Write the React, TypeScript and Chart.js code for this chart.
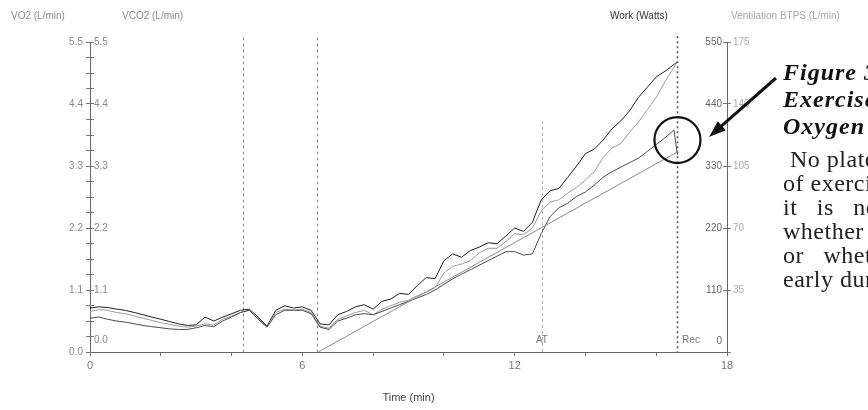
import { useEffect, useRef } from "react";
import { Chart, registerables } from "chart.js";

Chart.register(...registerables);

// ---- data ----
const timeMin = [0, 0.25, 0.5, 0.75, 1, 1.25, 1.5, 1.75, 2, 2.25, 2.5, 2.75, 3, 3.25, 3.5, 3.75, 4, 4.25, 4.5, 4.75, 5, 5.25, 5.5, 5.75, 6, 6.25, 6.5, 6.75, 7, 7.25, 7.5, 7.75, 8, 8.25, 8.5, 8.75, 9, 9.25, 9.5, 9.75, 10, 10.25, 10.5, 10.75, 11, 11.25, 11.5, 11.75, 12, 12.25, 12.5, 12.75, 13, 13.25, 13.5, 13.75, 14, 14.25, 14.5, 14.75, 15, 15.25, 15.5, 15.75, 16, 16.25, 16.5, 16.6];

const ventilation = [24.8, 25.5, 25.1, 24.2, 23.5, 22.3, 21.0, 19.7, 18.5, 17.2, 15.9, 15.0, 15.3, 19.7, 17.5, 19.7, 21.6, 23.5, 24.2, 19.7, 14.6, 23.5, 26.1, 24.8, 25.5, 23.5, 15.9, 15.3, 21.0, 22.9, 25.5, 26.7, 24.2, 28.6, 29.9, 33.1, 32.5, 37.5, 42.0, 41.4, 51.5, 55.4, 53.5, 57.3, 59.2, 61.7, 61.1, 65.5, 70.0, 68.1, 73.2, 85.9, 91.0, 92.3, 98.6, 105.0, 112.0, 114.5, 119.6, 126.0, 130.5, 136.2, 143.8, 149.5, 155.3, 158.5, 162.3, 163.9];

const vco2 = [0.72, 0.75, 0.74, 0.70, 0.68, 0.64, 0.60, 0.56, 0.52, 0.49, 0.46, 0.44, 0.46, 0.50, 0.48, 0.58, 0.64, 0.70, 0.74, 0.60, 0.44, 0.70, 0.76, 0.74, 0.76, 0.70, 0.46, 0.42, 0.58, 0.64, 0.70, 0.74, 0.66, 0.76, 0.82, 0.88, 0.92, 1.00, 1.06, 1.14, 1.40, 1.52, 1.56, 1.62, 1.76, 1.84, 1.84, 1.96, 2.10, 2.08, 2.20, 2.50, 2.66, 2.70, 2.82, 2.92, 3.05, 3.20, 3.45, 3.62, 3.70, 3.90, 4.08, 4.30, 4.52, 4.80, 5.05, 5.15];

const vo2 = [0.60, 0.62, 0.58, 0.55, 0.53, 0.50, 0.47, 0.45, 0.43, 0.41, 0.40, 0.40, 0.43, 0.47, 0.45, 0.55, 0.62, 0.70, 0.74, 0.58, 0.44, 0.66, 0.74, 0.74, 0.74, 0.68, 0.44, 0.40, 0.55, 0.60, 0.66, 0.68, 0.66, 0.72, 0.78, 0.84, 0.90, 0.96, 1.02, 1.10, 1.20, 1.30, 1.38, 1.46, 1.54, 1.62, 1.70, 1.78, 1.78, 1.72, 1.74, 2.10, 2.40, 2.56, 2.64, 2.76, 2.84, 2.96, 3.10, 3.20, 3.28, 3.36, 3.44, 3.56, 3.68, 3.80, 3.94, 3.50];

const workTime = [6.45, 16.6];
const workWatts = [0, 355];

const markerTimes = [4.33, 6.42, 12.77, 16.59];
const markerLabels = ["", "", "AT", "Rec"];
const markerTopsL = [5.58, 5.58, 4.1, 5.6];

const xTicks = [0, 2, 4, 6, 8, 10, 12, 14, 16, 18];
const xLabelTicks = [0, 6, 12, 18];
const o2Ticks = [0, 0.275, 0.55, 0.825, 1.1, 1.375, 1.65, 1.925, 2.2, 2.475, 2.75, 3.025, 3.3, 3.575, 3.85, 4.125, 4.4, 4.675, 4.95, 5.225, 5.5];
const o2LabelTicks = [0, 1.1, 2.2, 3.3, 4.4, 5.5];
const workTicks = [0, 110, 220, 330, 440, 550];
const veTicks = [0, 35, 70, 105, 140, 175];

const peakCircle = { t: 16.6, v: 3.76 };

const SANS = '"Liberation Sans", Arial, sans-serif';

const isLabel = (v: number, list: number[]) => list.some((l) => Math.abs(l - v) < 1e-6);

const overlay = {
  id: "overlay",
  beforeDatasetsDraw(chart: any) {
    const { ctx } = chart;
    const x = chart.scales.x;
    const y = chart.scales.o2;
    ctx.save();
    markerTimes.forEach((t, i) => {
      const px = Math.round(x.getPixelForValue(t)) + 0.5;
      const top = y.getPixelForValue(markerTopsL[i]);
      const bottom = y.getPixelForValue(0);
      ctx.beginPath();
      if (i === 3) {
        ctx.strokeStyle = "#555";
        ctx.lineWidth = 1.6;
        ctx.setLineDash([2, 3]);
      } else if (i === 2) {
        ctx.strokeStyle = "#aaa";
        ctx.lineWidth = 1;
        ctx.setLineDash([3, 3]);
      } else {
        ctx.strokeStyle = "#888";
        ctx.lineWidth = 1;
        ctx.setLineDash([3, 3]);
      }
      ctx.moveTo(px, top);
      ctx.lineTo(px, bottom);
      ctx.stroke();
    });
    ctx.restore();
  },
  afterDraw(chart: any) {
    const { ctx } = chart;
    const x = chart.scales.x;
    const y = chart.scales.o2;
    const yb = y.getPixelForValue(0);
    ctx.save();
    ctx.setLineDash([]);
    ctx.textBaseline = "middle";
    // header titles
    ctx.font = `10px ${SANS}`;
    ctx.textAlign = "left";
    ctx.fillStyle = "#8a8a8a";
    ctx.fillText("VO2 (L/min)", 11, 16);
    ctx.fillText("VCO2 (L/min)", 122, 16);
    ctx.fillStyle = "#333";
    ctx.fillText("Work (Watts)", 610, 16);
    ctx.fillStyle = "#a8a8a8";
    ctx.fillText("Ventilation BTPS (L/min)", 731, 16);

    // marker labels
    ctx.font = `10px ${SANS}`;
    ctx.fillStyle = "#777";
    markerTimes.forEach((t, i) => {
      const lab = markerLabels[i];
      if (!lab) return;
      const px = x.getPixelForValue(t);
      if (lab === "AT") {
        ctx.textAlign = "center";
        ctx.fillText(lab, px, yb - 12);
      } else {
        ctx.textAlign = "left";
        ctx.fillText(lab, px + 5, yb - 12);
      }
    });
    // zero labels above the base line
    ctx.textAlign = "left";
    ctx.fillStyle = "#888";
    ctx.fillText("0.0", x.left + 4, yb - 12);
    ctx.textAlign = "right";
    ctx.fillStyle = "#666";
    ctx.fillText("0", x.right - 5, yb - 11);

    // circle around VO2 peak
    const cx = x.getPixelForValue(peakCircle.t);
    const cy = y.getPixelForValue(peakCircle.v);
    ctx.beginPath();
    ctx.strokeStyle = "#111";
    ctx.lineWidth = 2.2;
    ctx.arc(cx, cy, 23, 0, Math.PI * 2);
    ctx.stroke();

    // arrow
    const ax0 = 776, ay0 = 78, ax1 = 709, ay1 = 137;
    const ang = Math.atan2(ay1 - ay0, ax1 - ax0);
    ctx.beginPath();
    ctx.lineWidth = 3;
    ctx.strokeStyle = "#111";
    ctx.moveTo(ax0, ay0);
    ctx.lineTo(ax1 - 10 * Math.cos(ang), ay1 - 10 * Math.sin(ang));
    ctx.stroke();
    ctx.beginPath();
    ctx.fillStyle = "#111";
    ctx.moveTo(ax1, ay1);
    ctx.lineTo(ax1 - 17 * Math.cos(ang) + 6 * Math.sin(ang), ay1 - 17 * Math.sin(ang) - 6 * Math.cos(ang));
    ctx.lineTo(ax1 - 17 * Math.cos(ang) - 6 * Math.sin(ang), ay1 - 17 * Math.sin(ang) + 6 * Math.cos(ang));
    ctx.closePath();
    ctx.fill();
    ctx.restore();
  },
};

export default function App() {
  const canvasRef = useRef<HTMLCanvasElement | null>(null);

  useEffect(() => {
    if (!canvasRef.current) return;
    const pts = (xs: number[], ys: number[]) => xs.map((t, i) => ({ x: t, y: ys[i] }));
    const tickFont = { family: SANS, size: 10 };
    const chart = new Chart(canvasRef.current, {
      type: "line",
      data: {
        datasets: [
          { label: "Work", data: pts(workTime, workWatts), yAxisID: "work", borderColor: "#8a8a8a", borderWidth: 1, pointRadius: 0, tension: 0 },
          { label: "VO2", data: pts(timeMin, vo2), yAxisID: "o2", borderColor: "#4a4a4a", borderWidth: 1, pointRadius: 0, tension: 0 },
          { label: "VCO2", data: pts(timeMin, vco2), yAxisID: "co2", borderColor: "#9a9a9a", borderWidth: 1, pointRadius: 0, tension: 0 },
          { label: "Ventilation", data: pts(timeMin, ventilation), yAxisID: "ve", borderColor: "#1e1e1e", borderWidth: 1, pointRadius: 0, tension: 0 },
        ],
      },
      options: {
        responsive: false,
        animation: false,
        devicePixelRatio: 1,
        layout: { padding: { top: 42, left: 0, right: 0, bottom: 0 } },
        plugins: { legend: { display: false }, tooltip: { enabled: false } },
        scales: {
          x: {
            type: "linear",
            position: "bottom",
            min: 0,
            max: 18,
            afterFit: (s: any) => { s.height = 58; },
            afterBuildTicks: (s: any) => { s.ticks = xTicks.map((v) => ({ value: v })); },
            ticks: {
              autoSkip: false,
              maxRotation: 0,
              color: "#777",
              font: { family: SANS, size: 11 },
              padding: 3,
              callback: (v: any) => (isLabel(Number(v), xLabelTicks) ? String(v) : ""),
            },
            grid: { drawOnChartArea: false, tickLength: 4, color: "#777" },
            border: { color: "#666" },
            title: { display: true, text: "Time (min)", color: "#444", font: { family: SANS, size: 11 }, padding: { top: 0, bottom: 5 } },
          },
          o2: {
            type: "linear",
            position: "left",
            weight: 1,
            min: 0,
            max: 5.5,
            afterFit: (s: any) => { s.width = 90; },
            afterBuildTicks: (s: any) => { s.ticks = o2Ticks.map((v) => ({ value: v })); },
            ticks: {
              autoSkip: false,
              color: "#888",
              font: tickFont,
              padding: 3,
              callback: (v: any) => (isLabel(Number(v), o2LabelTicks) ? Number(v).toFixed(1) : ""),
            },
            grid: { drawOnChartArea: false, tickLength: 4, color: "#777" },
            border: { color: "#666" },
          },
          co2: {
            type: "linear",
            position: "left",
            weight: 0,
            min: 0,
            max: 5.5,
            afterFit: (s: any) => { s.width = 0; },
            afterBuildTicks: (s: any) => { s.ticks = o2Ticks.map((v) => ({ value: v })); },
            ticks: {
              autoSkip: false,
              mirror: true,
              color: "#888",
              font: tickFont,
              padding: 4,
              callback: (v: any) => {
                const n = Number(v);
                if (n === 0) return "";
                return isLabel(n, o2LabelTicks) ? n.toFixed(1) : "";
              },
            },
            grid: { drawOnChartArea: false, tickLength: -4, color: "#777" },
            border: { color: "#666" },
          },
          work: {
            type: "linear",
            position: "right",
            weight: 0,
            min: 0,
            max: 550,
            afterFit: (s: any) => { s.width = 0; },
            afterBuildTicks: (s: any) => { s.ticks = workTicks.map((v) => ({ value: v })); },
            ticks: {
              autoSkip: false,
              mirror: true,
              color: "#666",
              font: tickFont,
              padding: -5,
              callback: (v: any) => (Number(v) === 0 ? "" : String(v)),
            },
            grid: { drawOnChartArea: false, tickLength: -4, color: "#777" },
            border: { color: "#666" },
          },
          ve: {
            type: "linear",
            position: "right",
            weight: 1,
            min: 0,
            max: 175,
            afterFit: (s: any) => { s.width = 141; },
            afterBuildTicks: (s: any) => { s.ticks = veTicks.map((v) => ({ value: v })); },
            ticks: {
              autoSkip: false,
              color: "#aaa",
              font: tickFont,
              padding: 2,
              callback: (v: any) => (Number(v) === 0 ? "" : String(v)),
            },
            grid: { drawOnChartArea: false, tickLength: 4, color: "#777" },
            border: { color: "#666" },
          },
        },
      } as any,
      plugins: [overlay],
    });
    return () => chart.destroy();
  }, []);

  const serif = '"Liberation Serif", "Times New Roman", serif';
  return (
    <div style={{ position: "fixed", left: 0, top: 0, width: 868, height: 410, overflow: "hidden", background: "#fff" }}>
      <canvas ref={canvasRef} width={868} height={410} style={{ position: "absolute", left: 0, top: 0, width: 868, height: 410 }} />
      <div style={{ position: "absolute", left: 783, top: 59, fontFamily: serif, fontStyle: "italic", fontWeight: "bold", fontSize: 24, letterSpacing: 1, lineHeight: "27px", color: "#111", whiteSpace: "nowrap" }}>
        <div>Figure 3.</div>
        <div>Exercise Test</div>
        <div>Oxygen Uptake</div>
      </div>
      <div style={{ position: "absolute", left: 783, top: 147, fontFamily: serif, fontSize: 24, letterSpacing: 0.5, lineHeight: "24px", color: "#222", whiteSpace: "nowrap" }}>
        <div style={{ paddingLeft: 7 }}>No plateau</div>
        <div>of exercise</div>
        <div>it&nbsp;&nbsp; is&nbsp;&nbsp; not</div>
        <div>whether</div>
        <div>or&nbsp;&nbsp; whether</div>
        <div>early during</div>
      </div>
    </div>
  );
}
